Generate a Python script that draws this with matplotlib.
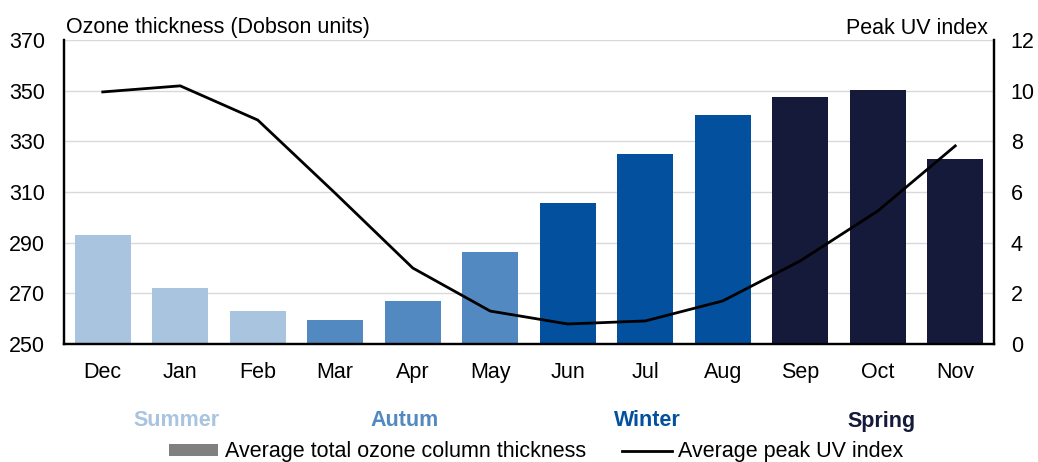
import matplotlib
matplotlib.use("Agg")
import matplotlib.pyplot as plt
from matplotlib.patches import Patch
from matplotlib.lines import Line2D

plt.rcParams['font.family'] = ['Liberation Sans', 'DejaVu Sans']

months = ["Dec", "Jan", "Feb", "Mar", "Apr", "May", "Jun", "Jul", "Aug", "Sep", "Oct", "Nov"]
ozone = [293, 272, 263, 259.5, 267, 286.5, 305.7, 325, 340.5, 347.5, 350.3, 323]
uv = [9.95, 10.19, 8.84, 5.95, 3.0, 1.30, 0.79, 0.91, 1.70, 3.28, 5.25, 7.82]
seasons = ["Summer", "Autum", "Winter", "Spring"]
season_colors = ["#A9C4DF", "#5289C0", "#03509E", "#161A3A"]
month_season = [0, 0, 0, 1, 1, 1, 2, 2, 2, 3, 3, 3]

FS = 15.5
W, H = 1038, 462
fig = plt.figure(figsize=(W / 100, H / 100), dpi=100)
ax = fig.add_axes([64 / W, 1 - 344 / H, (994 - 64) / W, (344 - 40) / H])
x = list(range(len(months)))
ax.bar(x, [o - 250 for o in ozone], bottom=250, width=0.72,
       color=[season_colors[s] for s in month_season], zorder=2)
ax.set_xlim(-0.5, 11.5)
ax.set_ylim(250, 370)
ax.set_yticks(range(250, 371, 20))
ax.yaxis.grid(True, color="#D9D9D9", linewidth=1, zorder=0)
ax.set_axisbelow(True)
ax.set_xticks(x)
ax.set_xticklabels(months)
ax.tick_params(axis='x', length=0, labelsize=FS, pad=13)
ax.tick_params(axis='y', length=0, labelsize=FS, pad=13.5)
ax.spines["top"].set_visible(False)
for s in ["left", "right", "bottom"]:
    ax.spines[s].set_linewidth(1.6)
    ax.spines[s].set_color("black")

ax2 = ax.twinx()
ax2.plot(x, uv, color="black", linewidth=2, zorder=3)
ax2.set_ylim(0, 12)
ax2.set_yticks(range(0, 13, 2))
ax2.tick_params(axis='y', length=0, labelsize=FS, pad=12)
ax2.spines["top"].set_visible(False)
for s in ["left", "right", "bottom"]:
    ax2.spines[s].set_linewidth(1.6)

fig.text(66 / W, 1 - 28 / H, "Ozone thickness (Dobson units)", fontsize=FS,
         ha="left", va="center")
fig.text(988 / W, 1 - 28 / H, "Peak UV index", fontsize=FS,
         ha="right", va="center")

season_x = [177, 405, 647, 881]
for name, col, sx in zip(seasons, season_colors, season_x):
    fig.text(sx / W, 1 - 421 / H, name, color=col, fontsize=FS, fontweight="bold",
             ha="center", va="center")

handles = [Patch(facecolor="#808080", edgecolor="none"),
           Line2D([0], [0], color="black", linewidth=2)]
fig.legend(handles, ["Average total ozone column thickness", "Average peak UV index"],
           loc="center", bbox_to_anchor=(536 / W, 1 - 452 / H), ncol=2, frameon=False,
           fontsize=FS, handlelength=2.3, handleheight=0.5, columnspacing=1.7,
           handletextpad=0.3, borderpad=0)

fig.savefig("out.png", dpi=100)
